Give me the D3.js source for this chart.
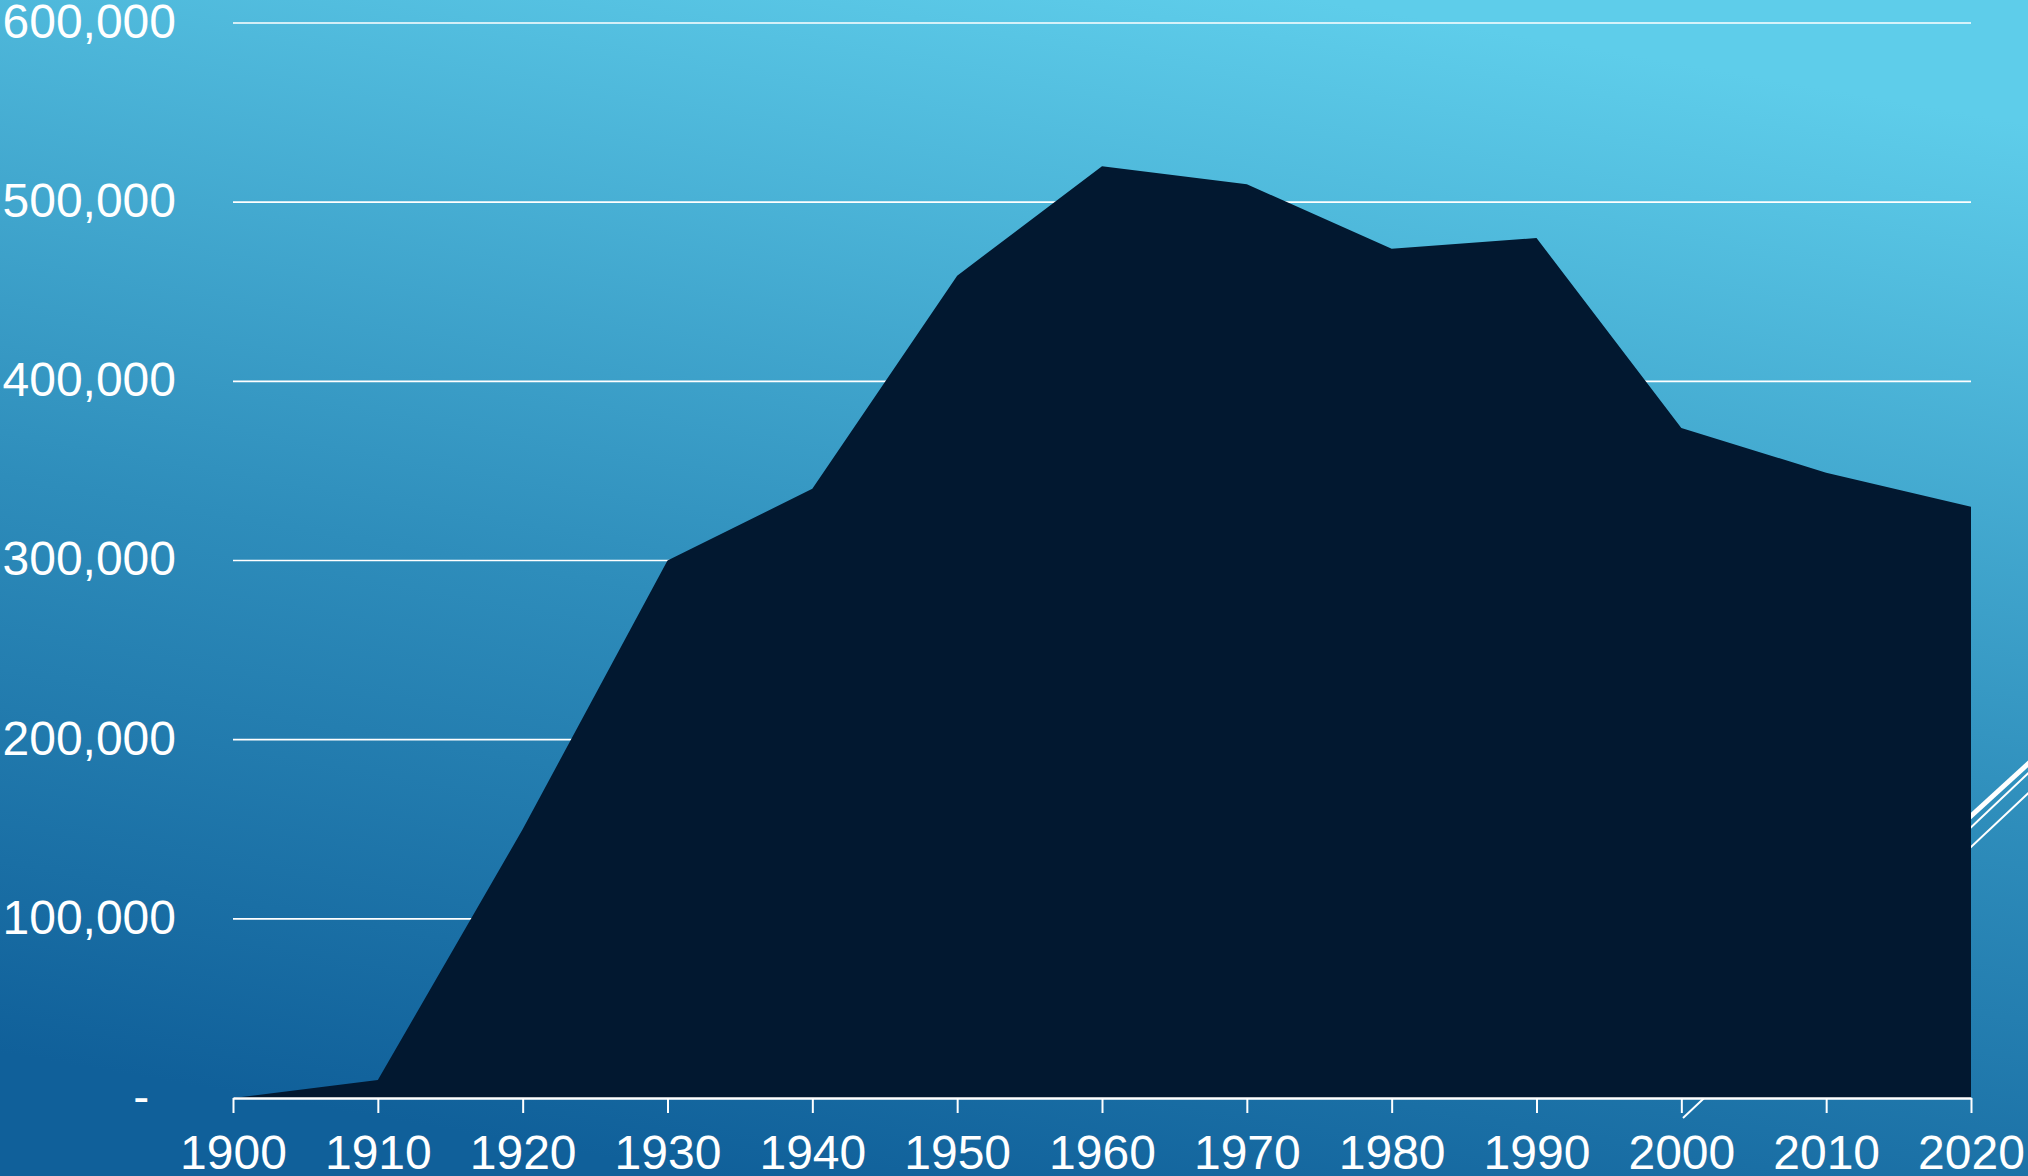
<!DOCTYPE html>
<html>
<head>
<meta charset="utf-8">
<script src="https://cdn.jsdelivr.net/npm/d3@7"></script>
<style>
    html, body { margin: 0; padding: 0; overflow: hidden; }
    svg { display: block; }
    text { font-family: "Liberation Sans", Arial, sans-serif; fill: #ffffff; }
</style>
</head>
<body>
<script>
// Data
var years = [1900, 1910, 1920, 1930, 1940, 1950, 1960, 1970, 1980, 1990, 2000, 2010, 2020];
var values = [0, 10000, 150000, 300000, 340000, 459000, 520000, 510000, 474000, 480000, 374000, 349000, 330000];
var yTicks = [0, 100000, 200000, 300000, 400000, 500000, 600000];

var W = 2028, H = 1176;
var margin = { top: 23, right: 57, bottom: 78, left: 233 };
var width = W - margin.left - margin.right,
    height = H - margin.top - margin.bottom;

var svg = d3.select("body").append("svg")
    .attr("width", W)
    .attr("height", H);

// background gradient (slide theme)
var defs = svg.append("defs");
var grad = defs.append("linearGradient")
    .attr("id", "bg")
    .attr("x1", "0.35").attr("y1", "1")
    .attr("x2", "0.65").attr("y2", "0");
grad.append("stop").attr("offset", "0").attr("stop-color", "#10609a");
grad.append("stop").attr("offset", "0.45").attr("stop-color", "#2e8dbb");
grad.append("stop").attr("offset", "1").attr("stop-color", "#5ecdea");

svg.append("rect")
    .attr("width", W).attr("height", H)
    .attr("fill", "url(#bg)");

// decorative slide lines (behind the chart)
var deco = [
    { x1: 1890, y1: 890, x2: 2040, y2: 753, w: 5 },
    { x1: 1890, y1: 904, x2: 2040, y2: 762, w: 2 },
    { x1: 1683, y1: 1118, x2: 2040, y2: 782, w: 2 }
];
svg.append("g").selectAll("line")
    .data(deco)
    .enter().append("line")
    .attr("x1", d => d.x1).attr("y1", d => d.y1)
    .attr("x2", d => d.x2).attr("y2", d => d.y2)
    .attr("stroke", "#ffffff")
    .attr("stroke-width", d => d.w);

var g = svg.append("g")
    .attr("transform", "translate(" + margin.left + "," + margin.top + ")");

var x = d3.scaleLinear().domain([1900, 2020]).range([0, width]);
var y = d3.scaleLinear().domain([0, 600000]).range([height, 0]);

// gridlines
g.selectAll("line.grid")
    .data(yTicks.slice(1))
    .enter().append("line")
    .attr("class", "grid")
    .attr("x1", 0).attr("x2", width)
    .attr("y1", d => y(d)).attr("y2", d => y(d))
    .attr("stroke", "#ffffff")
    .attr("stroke-width", 1.6);

// the area
var area = d3.area()
    .x((d, i) => x(years[i]))
    .y0(y(0))
    .y1(d => y(d));

g.append("path")
    .datum(values)
    .attr("d", area)
    .attr("fill", "#021830");

// x axis
var xAxis = g.append("g")
    .attr("transform", "translate(0," + height + ")")
    .call(d3.axisBottom(x)
        .tickValues(years)
        .tickFormat(d3.format("d"))
        .tickSize(15)
        .tickSizeOuter(0)
        .tickPadding(22));
xAxis.select(".domain").attr("stroke", "#ffffff").attr("stroke-width", 2.5);
xAxis.selectAll(".tick line").attr("stroke", "#ffffff").attr("stroke-width", 2);
xAxis.selectAll(".tick text")
    .attr("fill", "#ffffff")
    .style("font-size", "48px")
    .style("font-family", "'Liberation Sans', Arial, sans-serif");

// y axis (labels only)
var fmt = d3.format(",");
var yAxis = g.append("g")
    .call(d3.axisLeft(y)
        .tickValues(yTicks)
        .tickFormat(d => d === 0 ? "-  " : fmt(d))
        .tickSize(0)
        .tickPadding(57));
yAxis.select(".domain").remove();
yAxis.selectAll(".tick text")
    .attr("fill", "#ffffff")
    .attr("dy", "0.3em")
    .style("white-space", "pre")
    .style("font-size", "48px")
    .style("font-family", "'Liberation Sans', Arial, sans-serif");
</script>
</body>
</html>
